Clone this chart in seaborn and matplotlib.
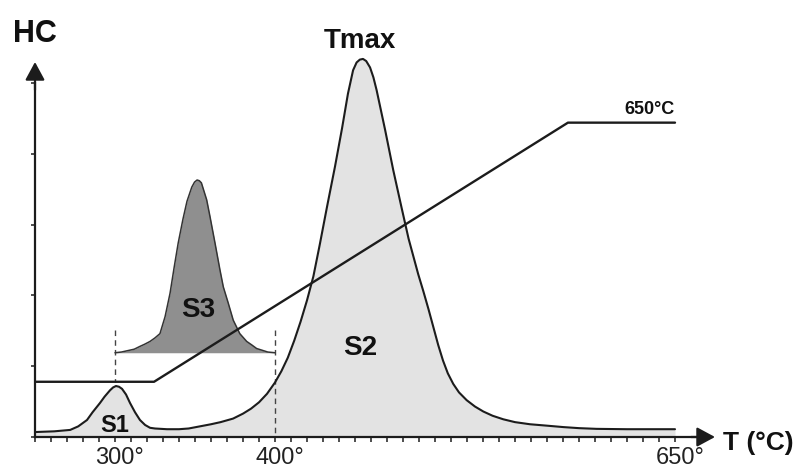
import matplotlib
matplotlib.use("Agg")
import matplotlib.pyplot as plt
import matplotlib.transforms as mtransforms
import numpy as np
import seaborn as sns

# HC signal (S1 + S2), temperature in °C
main_T = [250, 262, 272, 277, 282.5, 286, 290.6, 293.5, 296.9, 298.8, 300.6, 302.5,
          304.4, 306.9, 309.4, 312.5, 315.6, 318.8, 321.9, 325, 332.5, 340, 346,
          353, 360, 366, 373.8, 380, 385, 390, 395, 400, 404, 408, 412, 416, 420,
          424, 428, 432.5, 437.5, 441.9, 445.6, 448.8, 451, 453, 455, 457, 459.4,
          461.5, 463.5, 468.8, 473.9, 479, 483.5, 486.5, 489.5, 492.7, 496, 499,
          502, 505, 508, 511.4, 515, 519.8, 525, 530.2, 536, 542.7, 550, 559.4,
          570, 580.2, 590, 601, 620, 650]
main_HC = [0.07, 0.08, 0.10, 0.15, 0.24, 0.35, 0.48, 0.57, 0.66, 0.70, 0.72, 0.71,
           0.68, 0.60, 0.48, 0.35, 0.24, 0.17, 0.13, 0.12, 0.11, 0.11, 0.12,
           0.15, 0.18, 0.21, 0.26, 0.33, 0.40, 0.49, 0.61, 0.77, 0.93, 1.12, 1.36,
           1.63, 1.93, 2.27, 2.72, 3.25, 3.82, 4.36, 4.85, 5.18, 5.29, 5.33, 5.34,
           5.31, 5.22, 5.08, 4.90, 4.34, 3.77, 3.25, 2.80, 2.55, 2.30, 2.06, 1.80,
           1.55, 1.30, 1.08, 0.90, 0.75, 0.63, 0.52, 0.43, 0.36, 0.30, 0.25, 0.21,
           0.18, 0.16, 0.14, 0.125, 0.115, 0.11, 0.11]

# S3 peak, drawn on its own baseline
s3_base = 1.19
s3_T = [300, 304, 308, 312, 315.6, 318.5, 321.9, 325, 328.1, 331.3, 334.4, 337,
        339.5, 342.5, 345, 348, 349.7, 351.3, 352.7, 354, 357.3, 359.4, 362.5,
        365.6, 367.7, 370.8, 373.9, 378, 382.3, 385.5, 388.5, 392.7, 395.5, 400]
s3_HC = [1.19, 1.20, 1.22, 1.24, 1.28, 1.31, 1.35, 1.40, 1.46, 1.70, 2.03, 2.40,
         2.74, 3.08, 3.33, 3.53, 3.60, 3.63, 3.62, 3.59, 3.35, 3.11, 2.74,
         2.36, 2.12, 1.89, 1.65, 1.46, 1.35, 1.30, 1.25, 1.22, 1.20, 1.19]

# oven temperature programme
prog_T = [250, 324.4, 583.1, 650]
prog_HC = [0.78, 0.78, 4.44, 4.44]

# dashed markers of the S3 window
dash_T = [300, 400]
dash_top = 1.51
dash_bottom = [0.78, 0]

tick_temps = [300, 400, 650]
tick_labels = ["300°", "400°", "650°"]

sns.set_theme(style="white")
plt.rcParams["font.family"] = ["Liberation Sans", "DejaVu Sans"]

ink = "#1c1c1c"
fig = plt.figure(figsize=(8.01, 4.70), dpi=100)
ax = fig.add_axes([35 / 801, 33 / 470, 680 / 801, 375 / 470])
ax.set_xlim(250, 675)
ax.set_ylim(0, 375 / 70.8)

# fills and curves
ax.fill_between(main_T, main_HC, 0, color="#e3e3e3", lw=0, zorder=1, clip_on=False)
for t, b in zip(dash_T, dash_bottom):
    ax.plot([t, t], [dash_top, b], color="#444444", lw=1.0, ls=(0, (4, 3)), zorder=2)
sns.lineplot(x=main_T, y=main_HC, sort=False, estimator=None, color=ink, lw=1.5,
             ax=ax, zorder=3, clip_on=False)
ax.fill_between(s3_T, s3_HC, s3_base, color="#8f8f8f", lw=0, zorder=3)
sns.lineplot(x=s3_T, y=s3_HC, sort=False, estimator=None, color="#333333", lw=1.1,
             ax=ax, zorder=4)
sns.lineplot(x=prog_T, y=prog_HC, sort=False, estimator=None, color=ink, lw=1.7,
             ax=ax, zorder=5)

# axes with arrow heads
for s in ["top", "right"]:
    ax.spines[s].set_visible(False)
for s in ["left", "bottom"]:
    ax.spines[s].set_linewidth(1.6)
    ax.spines[s].set_color(ink)
ax.spines["left"].set_bounds(0, 5.0)
ax.spines["bottom"].set_bounds(250, 665)
aprops = dict(arrowstyle="-|>,head_length=0.5,head_width=0.27", mutation_scale=22,
              color=ink, lw=1.6, shrinkA=0, shrinkB=0)
ax.annotate("", xy=(250, 375 / 70.8), xytext=(250, 4.9), arrowprops=aprops,
            annotation_clip=False)
ax.annotate("", xy=(675, 0), xytext=(660, 0), arrowprops=aprops, annotation_clip=False)

ax.set_xticks(tick_temps, labels=tick_labels)
ax.set_xticks(np.arange(250, 651, 10), minor=True)
ax.set_yticks([0, 1, 2, 3, 4, 5], labels=[])
ax.tick_params(axis="x", which="both", direction="out", length=3.5, width=1.1,
               color=ink, bottom=True, labelsize=17, labelcolor="#222222", pad=4)
ax.tick_params(axis="y", which="both", direction="out", length=3, width=1.1,
               color=ink, left=True)
shift = mtransforms.ScaledTranslation(4.7 / 100, 0, fig.dpi_scale_trans)
for lab in ax.get_xticklabels():
    lab.set_transform(lab.get_transform() + shift)
ax.grid(False)
ax.set_xlabel("")
ax.set_ylabel("")

kw = dict(fontweight="bold", color="#111111", va="baseline", clip_on=False)
ax.text(236.25, 5.58, "HC", fontsize=22, ha="left", **kw)
ax.text(453.1, 5.49, "Tmax", fontsize=20, ha="center", **kw)
ax.text(650, 4.56, "650°C", fontsize=13, ha="right", **kw)
ax.text(299.7, 0.07, "S1", fontsize=17, ha="center", zorder=6, **kw)
ax.text(453.4, 1.16, "S2", fontsize=20, ha="center", zorder=6, **kw)
ax.text(352.2, 1.69, "S3", fontsize=20, ha="center", zorder=6, **kw)
ax.text(680, -0.18, "T (°C)", fontsize=19, ha="left", **kw)

fig.savefig("out.png", dpi=100)
